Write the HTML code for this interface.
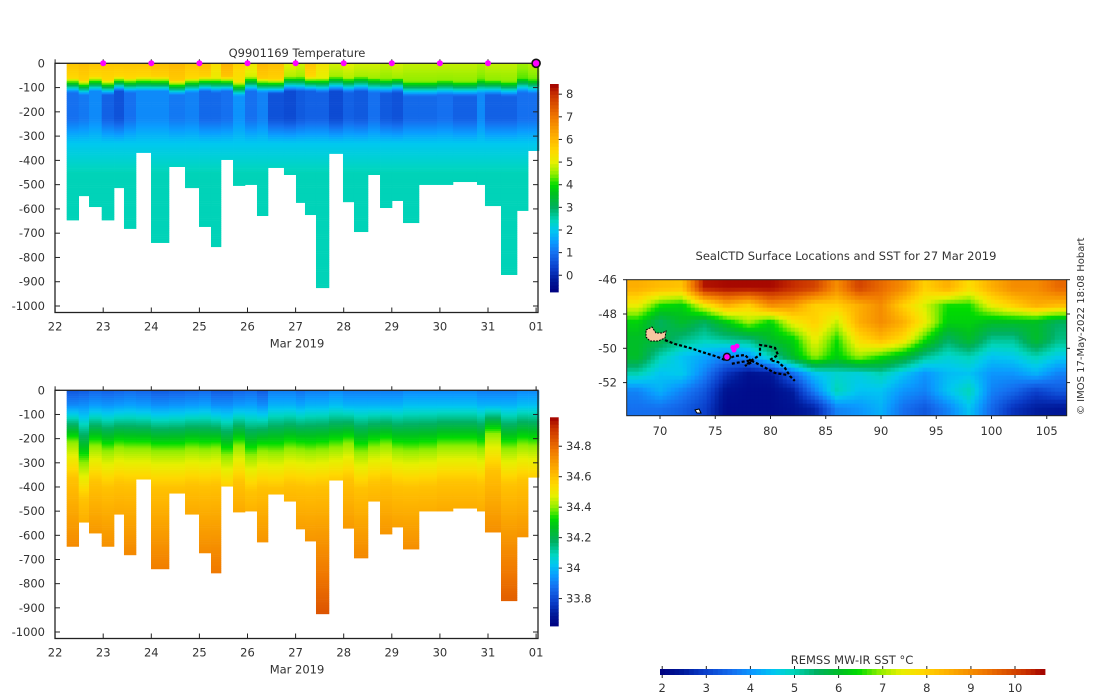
<!DOCTYPE html>
<html><head><meta charset="utf-8">
<style>
html,body{margin:0;padding:0;background:#fff;}
svg{display:block;font-family:"DejaVu Sans","Liberation Sans",sans-serif;}
text{fill:#333;font-size:11.5px;}
</style></head>
<body>
<svg id="root" width="1100" height="696" viewBox="0 0 1100 696" xmlns="http://www.w3.org/2000/svg">
<defs>
 <clipPath id="mapclip"><rect x="626.7" y="279.7" width="440" height="136"/></clipPath>
</defs>
<g id="tempPanel"></g>
<g id="salPanel"></g>
<g id="mapPanel"></g>
<text x="1084" y="415" transform="rotate(-90 1084 415)" style="font-size:10px">© IMOS 17-May-2022 18:08 Hobart</text>
</svg>
<script>
// ---- profile data ----
const profileEdgeDays = [22.241,22.491,22.705,22.969,23.225,23.432,23.682,23.994,24.368,24.701,24.992,25.241,25.449,25.699,25.948,26.197,26.426,26.758,27.008,27.195,27.424,27.694,27.985,28.214,28.505,28.755,29.004,29.233,29.565,29.939,30.272,30.771,30.937,31.270,31.603,31.834,32.06];
const maxDepths = [646,546,591,646,513,681,368,739,426,513,673,756,397,504,500,628,430,459,574,624,925,372,571,694,459,595,566,657,500,500,488,500,587,871,607,360];
const surfaceTemp = [5.8,5.9,5.8,5.8,5.8,5.8,5.8,5.9,6.0,5.8,5.9,5.4,6.1,5.6,5.2,6.0,5.9,5.0,4.9,5.8,5.3,4.9,5.0,4.9,4.9,4.8,4.9,4.8,4.8,4.8,4.8,4.7,4.8,4.8,4.6,4.7];
const mixedLayer = [60,70,55,70,55,60,55,55,70,60,55,60,55,75,55,60,65,55,55,55,60,55,60,55,60,65,60,75,75,70,75,65,70,75,60,65];
const minTemp = [1.0,1.1,1.3,0.8,0.6,1.0,1.3,1.3,1.1,1.2,0.9,0.9,1.0,1.4,1.0,1.2,0.6,0.5,0.7,0.8,0.8,0.5,0.8,0.7,1.0,0.7,0.6,0.9,0.9,1.0,0.8,1.3,0.8,0.8,1.0,1.0];
const surfaceSal = [33.83,33.84,33.86,33.85,33.86,33.87,33.86,33.84,33.85,33.86,33.87,33.84,33.84,33.86,33.87,33.84,33.9,33.9,33.88,33.9,33.9,33.92,33.9,33.9,33.9,33.9,33.9,33.92,33.92,33.92,33.92,33.9,33.9,33.9,33.92,33.92];
const haloDepth = [215,300,230,250,235,240,240,250,250,240,245,240,270,230,270,250,255,240,245,250,245,235,220,255,235,225,245,250,245,230,230,240,180,240,225,230];
const dayTicks = [22,23,24,25,26,27,28,29,30,31,32];
const dayTickLabels = ["22","23","24","25","26","27","28","29","30","31","01"];
const depthTicks = [0,100,200,300,400,500,600,700,800,900,1000];
const tempBarTicks = [0,1,2,3,4,5,6,7,8];
const salBarTicks = [33.8,34,34.2,34.4,34.6,34.8];
const sstBarTicks = [2,3,4,5,6,7,8,9,10];
const markerDays = [23,24,25,26,27,28,29,30,31];
// ---- SST grid (cell centres lon 68..106 step 2, lat -46.5..-53.5 step 1) ----
const sstLons = [68,70,72,74,76,78,80,82,84,86,88,90,92,94,96,98,100,102,104,106];
const sstLats = [-46.5,-47.5,-48.5,-49.5,-50.5,-51.5,-52.5,-53.5];
const sstRows = [
 [8.5,8.3,8.2,10.5,10.6,10.6,10.6,10.3,10.0,9.0,10.0,9.5,9.0,8.0,8.5,7.8,8.5,9.0,9.0,9.5],
 [7.5,6.5,6.3,7.5,8.5,8.0,9.0,8.8,8.0,8.0,8.5,9.0,8.0,7.3,6.5,6.5,7.5,8.0,8.5,8.3],
 [6.3,5.5,6.0,5.5,6.2,7.0,6.3,7.5,8.0,7.2,8.5,9.0,8.5,7.5,6.3,6.3,6.0,6.0,6.0,5.5],
 [6.0,5.8,5.3,5.0,5.2,5.3,6.0,6.3,7.5,6.5,7.8,8.3,7.8,6.5,5.5,6.0,5.2,5.2,6.0,5.3],
 [6.0,5.0,4.5,4.2,3.8,4.0,5.0,6.0,7.0,6.3,7.0,6.5,6.0,5.2,4.8,5.0,4.5,4.6,5.0,4.6],
 [5.0,4.5,4.6,3.8,2.8,2.3,2.4,3.5,4.5,4.8,4.7,5.0,4.5,4.0,4.4,4.5,4.0,4.0,4.3,3.8],
 [3.8,4.3,3.8,3.3,2.3,2.2,2.2,2.5,3.8,5.0,4.5,4.5,4.0,3.8,4.5,5.0,3.8,3.5,3.0,3.3],
 [3.6,3.6,3.4,3.0,2.2,2.2,2.2,2.3,2.6,3.8,4.0,4.3,3.6,3.3,3.8,4.5,3.5,2.8,2.5,2.4]
];
const lonTicks = [70,75,80,85,90,95,100,105];
const latTicks = [-46,-48,-50,-52];
const trackLon = [70.45,71.36,72.71,74.07,74.98,75.88,76.79,77.69,78.33,77.69,78.33,79.05,79.05,79.77,80.41,80.68,79.95,80.68,81.31,81.76,82.2];
const trackLat = [-49.52,-49.75,-49.98,-50.27,-50.45,-50.68,-50.45,-50.39,-50.80,-51.03,-50.68,-50.39,-49.81,-49.87,-49.98,-50.39,-50.68,-50.80,-51.15,-51.62,-51.9];
const branchLon = [76.5,78.2,79.05,80.41,81.58];
const branchLat = [-50.9,-50.7,-50.97,-51.44,-51.56];
const recentLon = [76.7,76.97,76.6];
const recentLat = [-50.1,-49.87,-49.95];
const currentLon = 76.06, currentLat = -50.5;

const NS="http://www.w3.org/2000/svg";
function mk(tag,attrs,parent,txt){const e=document.createElementNS(NS,tag);for(const k in attrs)e.setAttribute(k,attrs[k]);if(txt!==undefined)e.textContent=txt;parent.appendChild(e);return e;}
const stops=[[-0.74,[0,0,127]],[-0.2,[0,26,154]],[0.3,[10,60,200]],[1.0,[21,112,240]],[1.5,[10,156,255]],[2.0,[0,200,240]],[2.4,[0,214,192]],[3.0,[0,176,96]],[3.6,[0,192,32]],[4.0,[0,220,0]],[4.5,[144,238,0]],[5.0,[230,240,0]],[5.5,[255,216,0]],[6.0,[255,184,0]],[7.0,[240,120,0]],[8.0,[200,48,0]],[8.45,[160,0,0]]];
function cmapFrac(f){const v=-0.74+f*9.19;if(v<=stops[0][0])return rgb(stops[0][1]);for(let i=1;i<stops.length;i++){if(v<=stops[i][0]){const a=stops[i-1],b=stops[i];const t=(v-a[0])/(b[0]-a[0]);return rgb(a[1].map((c,j)=>Math.round(c+(b[1][j]-c)*t)));}}return rgb(stops[stops.length-1][1]);}
function rgb(a){return `rgb(${a[0]},${a[1]},${a[2]})`;}
const lerp=(a,b,t)=>a+(b-a)*Math.max(0,Math.min(1,t));
function tempAt(z,c){const m=mixedLayer[c],s=surfaceTemp[c],mn=minTemp[c];
 if(z<m)return s-(z/m)*0.3; if(z<m+60)return lerp(s-0.3,mn,(z-m)/60); if(z<230)return mn; if(z<330)return lerp(mn,2.0,(z-230)/100); return lerp(2.0,2.45,(z-330)/120);}
function salAt(z,c){const s=surfaceSal[c],h=haloDepth[c];
 if(z<60)return s+z*0.0015; if(z<h)return lerp(s+0.09,34.4,(z-60)/(h-60)); if(z<h+150)return lerp(34.4,34.6,(z-h)/150); return lerp(34.6,34.86,(z-h-150)/550);}

function panel(g,top,pxPer100,valFn,vmin,vmax,barTop,barBot,barTicks,title){
 const x=d=>55.1+(d-22)*48.1, y=z=>top+z*pxPer100/100;
 const bottom=y(1000)+6.5;
 for(let c=0;c<maxDepths.length;c++){
  const x0=x(profileEdgeDays[c]),x1=x(profileEdgeDays[c+1]);
  for(let z=0;z<maxDepths[c];z+=8){
   const zz=Math.min(z+8,maxDepths[c]);
   const v=valFn(z+4,c);
   const r=mk('rect',{x:x0.toFixed(2),y:y(z).toFixed(2),width:(x1-x0+0.3).toFixed(2),height:(y(zz)-y(z)+0.3).toFixed(2),fill:cmapFrac((v-vmin)/(vmax-vmin))},g);
   
   
  }
 }
 mk('rect',{x:55,y:top,width:483,height:bottom-top,fill:'none',stroke:'#222','stroke-width':1.3},g);
 depthTicks.forEach(d=>{const yy=y(d);
  mk('line',{x1:55,x2:60,y1:yy,y2:yy,stroke:'#222'},g);mk('line',{x1:533,x2:538,y1:yy,y2:yy,stroke:'#222'},g);
  const t=mk('text',{x:45,y:yy+4,'text-anchor':'end'},g,d===0?'0':'-'+d);
  });
 dayTicks.forEach((d,i)=>{const xx=x(d);
  mk('line',{x1:xx,x2:xx,y1:bottom,y2:bottom-5,stroke:'#222'},g);mk('line',{x1:xx,x2:xx,y1:top,y2:top-4,stroke:'#222'},g);
  const t=mk('text',{x:xx,y:bottom+18,'text-anchor':'middle'},g,dayTickLabels[i]);
  });
 const xl=mk('text',{x:297,y:bottom+35,'text-anchor':'middle'},g,'Mar 2019');
 
 if(title){const tt=mk('text',{x:297,y:57,'text-anchor':'middle','xml:space':'preserve'},g,title);}
 const n=60;for(let i=0;i<n;i++){const y0=barBot-(i+1)*(barBot-barTop)/n;
  const r=mk('rect',{x:550,y:y0.toFixed(2),width:8.7,height:((barBot-barTop)/n+0.4).toFixed(2),fill:cmapFrac((i+0.5)/n)},g);
  }
 const bv=v=>barBot-(v-vmin)/(vmax-vmin)*(barBot-barTop);
 barTicks.forEach(v=>{const yy=bv(v);mk('line',{x1:558.7,x2:562,y1:yy,y2:yy,stroke:'#222'},g);
  const t=mk('text',{x:566,y:yy+4},g,String(v));});
 return {x,y};
}
const tp=panel(document.getElementById('tempPanel'),63.3,24.27,tempAt,-0.74,8.45,84,292,tempBarTicks,'Q9901169  Temperature');
const tg=document.getElementById('tempPanel');
markerDays.forEach(d=>{const c=mk('circle',{cx:tp.x(d),cy:63.3,r:3,fill:'#ff00ff'},tg);});
const cm=mk('circle',{cx:tp.x(32),cy:63.3,r:4,fill:'#ff00ff',stroke:'#111','stroke-width':1.6},tg);

panel(document.getElementById('salPanel'),390.3,24.17,salAt,33.62,34.99,417.3,626,salBarTicks,null);

// ---- map ----
const mg=document.getElementById('mapPanel');
const lonX=l=>660+(l-70)*11.05, latY=a=>279.7+(-46-a)*17.15;
const xLon=px=>70+(px-660)/11.05, yLat=py=>-46-(py-279.7)/17.15;
const sstFrac=v=>(v-1.95)/(10.68-1.95);
const mt=mk('text',{x:846,y:260,'text-anchor':'middle'},mg,'SealCTD Surface Locations and SST for 27 Mar 2019');

const cl=mk('g',{'clip-path':'url(#mapclip)'},mg);
function sstAt(lon,lat){
 let fj=(lon-sstLons[0])/2, fi=(sstLats[0]-lat)/1;
 fj=Math.max(0,Math.min(sstLons.length-1.0001,fj)); fi=Math.max(0,Math.min(sstLats.length-1.0001,fi));
 const j=Math.floor(fj),i=Math.floor(fi),tj=fj-j,ti=fi-i;
 const a=sstRows[i][j],b=sstRows[i][j+1],c=sstRows[i+1][j],d=sstRows[i+1][j+1];
 return (a*(1-tj)+b*tj)*(1-ti)+(c*(1-tj)+d*tj)*ti;}
const cs=4;
for(let py=279.7;py<415.7;py+=cs){for(let px=626.7;px<1066.7;px+=cs){
 const v=sstAt(xLon(px+cs/2),yLat(py+cs/2));
 const r=mk('rect',{x:px.toFixed(1),y:py.toFixed(1),width:cs+0.3,height:cs+0.3,fill:cmapFrac(sstFrac(v))},cl);
 }}
const kg=mk('polygon',{points:'646,330 652,327 656,333 662,333 666,331 665,338 658,341 650,341 646,337',fill:'#f5c6a0',stroke:'#000','stroke-width':1,'stroke-dasharray':'2 1'},cl);

const hd=mk('polygon',{points:'695,410 699,409 701,413 697,413',fill:'#fff',stroke:'#000','stroke-width':1},cl);

function track(lons,lats,name){const pts=lons.map((l,i)=>lonX(l)+','+latY(lats[i])).join(' ');
 const p=mk('polyline',{points:pts,fill:'none',stroke:'#000','stroke-width':2.2,'stroke-dasharray':'3 2'},cl);
 }
track(trackLon,trackLat,'seal-track');track(branchLon,branchLat,'seal-track-branch');
recentLon.forEach((l,i)=>{const c=mk('circle',{cx:lonX(l),cy:latY(recentLat[i]),r:2.5,fill:'#ff00ff'},cl);});
const cur=mk('circle',{cx:lonX(currentLon),cy:latY(currentLat),r:3.5,fill:'#ff00ff',stroke:'#111','stroke-width':1.5},cl);

mk('rect',{x:626.7,y:279.7,width:440,height:136,fill:'none',stroke:'#222','stroke-width':1},mg);
lonTicks.forEach(l=>{const xx=lonX(l);mk('line',{x1:xx,x2:xx,y1:415.7,y2:419,stroke:'#222'},mg);
 const t=mk('text',{x:xx,y:435,'text-anchor':'middle'},mg,String(l));});
latTicks.forEach(a=>{const yy=latY(a);mk('line',{x1:623,x2:626.7,y1:yy,y2:yy,stroke:'#222'},mg);mk('line',{x1:1066.7,x2:1070,y1:yy,y2:yy,stroke:'#222'},mg);
 const t=mk('text',{x:617,y:yy+4,'text-anchor':'end'},mg,String(a));});
const sx=v=>660+(v-1.95)*(385/8.73);
for(let i=0;i<80;i++){const x0=660+i*385/80;const r=mk('rect',{x:x0.toFixed(2),y:669,width:(385/80+0.4).toFixed(2),height:6,fill:cmapFrac((i+0.5)/80)},mg);
 }
sstBarTicks.forEach(v=>{const xx=sx(v);mk('line',{x1:xx,x2:xx,y1:666,y2:669,stroke:'#222'},mg);mk('line',{x1:xx,x2:xx,y1:675,y2:678,stroke:'#222'},mg);
 const t=mk('text',{x:xx,y:692,'text-anchor':'middle'},mg,String(v));});
const ct=mk('text',{x:852,y:664,'text-anchor':'middle'},mg,'REMSS MW-IR SST °C');

</script>
</body></html>
